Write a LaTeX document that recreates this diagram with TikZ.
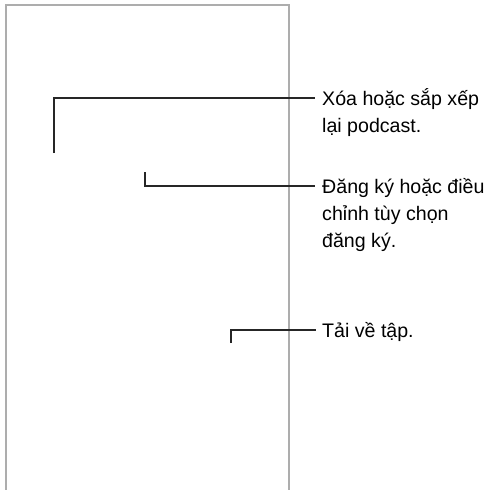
\documentclass[tikz,border=0pt]{standalone}
\usepackage{fontspec}
\setmainfont{Liberation Sans}
\begin{document}
\begin{tikzpicture}[x=1pt,y=-1pt,
  frame/.style={draw=black!32,line width=1.1pt},
  callout/.style={draw=black!85,line width=1.3pt},
  label/.style={anchor=base west,inner sep=0pt,font=\fontsize{19.6}{27}\selectfont}]
\useasboundingbox (0,0) rectangle (489,490);
% phone outline
\draw[frame] (6,490.5) -- (6,5) -- (289,5) -- (289,490.5);
% labels
\node[label] (t1) at (322,105) {\begin{tabular}[t]{@{}l@{}}Xóa hoặc sắp xếp\\lại podcast.\end{tabular}};
\node[label] (t2) at (322,193) {\begin{tabular}[t]{@{}l@{}}Đăng ký hoặc điều\\chỉnh tùy chọn\\đăng ký.\end{tabular}};
\node[label] (t3) at (322,337) {\begin{tabular}[t]{@{}l@{}}Tải về tập.\end{tabular}};
% callout anchors
\coordinate (c1) at (54,153);
\coordinate (c2) at (145,172);
\coordinate (c3) at (231,343);
\draw[callout] (c1) |- ([xshift=-7pt,yshift=7pt]t1.base west);
\draw[callout] (c2) |- ([xshift=-7pt,yshift=7pt]t2.base west);
\draw[callout] (c3) |- ([xshift=-6pt,yshift=7pt]t3.base west);
\end{tikzpicture}
\end{document}
